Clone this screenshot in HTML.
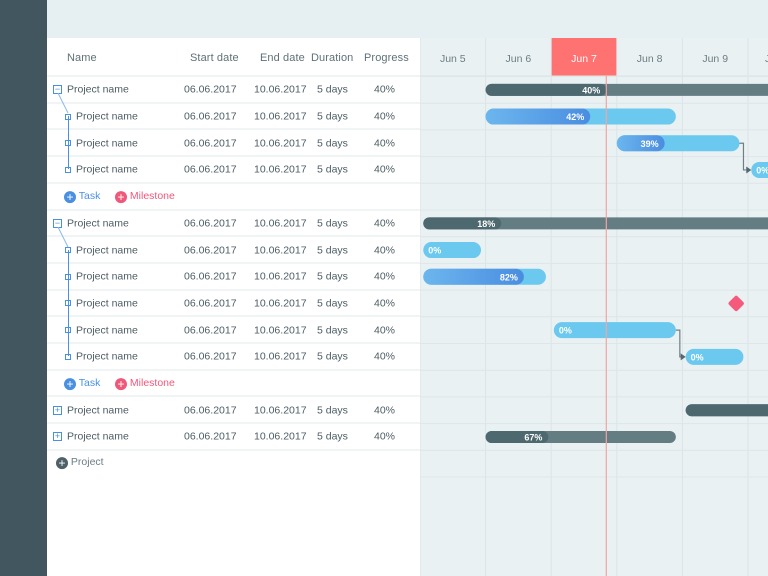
<!DOCTYPE html>
<html><head><meta charset="utf-8">
<style>
body{margin:0;width:768px;height:576px;overflow:hidden;background:#e6eff2;font-family:"Liberation Sans",sans-serif;position:relative}
.abs{position:absolute}
#side{left:0;top:0;width:47px;height:576px;background:#42565f}
#table{left:47px;top:38px;width:373px;height:538px;background:#fff}
.hd{position:absolute;top:52px;font-size:11px;color:#5f7177;font-weight:normal;letter-spacing:0.1px}
.cell{position:absolute;font-size:10.5px;color:#4c5d63;transform:translateY(-45%)}
.sep{position:absolute;left:47px;width:373px;height:2px;background:#f1f4f5}
</style></head><body>
<div id="side" class="abs"></div>
<div id="table" class="abs"></div>
<div id="tbl"></div>
<svg id="chart" class="abs" style="left:420px;top:38px" width="348" height="538"></svg>
<script>
const days=["Jun 5","Jun 6","Jun 7","Jun 8","Jun 9","Jun 10"];
const todayDay=2.84;
const rowNames=["Project name","Project name","Project name","Project name","","Project name","Project name","Project name","Project name","Project name","Project name","","Project name","Project name"];
const rowKinds=["project","task","task","task","add","project","task","task","task","task","task","add","projectc","projectc"];
const barRows=[0,1,2,3,5,6,7,9,10,12,13];
const barStart=[1,1,3,5.05,0.05,0.05,0.05,2.04,4.05,4.05,1];
const barDur=[4.6,2.9,1.87,1,6.6,0.88,1.87,1.86,0.88,2,2.9];
const barProg=[0.40,0.55,0.39,0,0.18,0,0.82,0,0,1,0.33];
const barLabel=["40%","42%","39%","0%","18%","0%","82%","0%","0%","","67%"];
const milestoneRow=[8];const milestoneDay=[4.82];
const links=[[2,3],[7,8]];

const NS="http://www.w3.org/2000/svg";
const colW=65.6, x0=0;
const rowH=26.7, firstRow=76;
const X=d=>x0+d*colW;
const Yc=r=>firstRow+rowH*r+rowH/2-38+0.5;
const svg=document.getElementById('chart');
function mk(t,a){const e=document.createElementNS(NS,t);for(const k in a)e.setAttribute(k,a[k]);svg.appendChild(e);return e;}
const defs=mk('defs',{});
defs.innerHTML='<linearGradient id="bg" x1="0" x2="1"><stop offset="0" stop-color="#6cb6ee"/><stop offset="1" stop-color="#4a8de0"/></linearGradient>';
mk('rect',{x:0,y:0,width:348,height:538,fill:'#eaf1f3'});
mk('rect',{x:0,y:0,width:348,height:38,fill:'#eaf1f3'});
days.forEach((d,i)=>{
 if(i===2){const r=mk('rect',{x:X(i),y:0,width:colW,height:38,fill:'#ff7272'});}
 const t=mk('text',{x:X(i)+colW/2,y:24,'text-anchor':'middle','font-size':'10.5',fill:i===2?'#fff':'#6b7d84','font-family':'Liberation Sans'});
 t.textContent=d;
 mk('line',{x1:X(i),x2:X(i),y1:0,y2:538,stroke:'#dbe4e7','stroke-width':1});
});
mk('line',{x1:0,x2:348,y1:38,y2:38,stroke:'#dbe4e7'});
for(let r=0;r<=15;r++){mk('line',{x1:0,x2:348,y1:Yc(r)-rowH/2,y2:Yc(r)-rowH/2,stroke:'#dde6e9'});}
barRows.forEach((r,i)=>{
 const proj=rowKinds[r]!=='task';
 const h=proj?12:16, y=Yc(r)-h/2, x=X(barStart[i]), w=barDur[i]*colW;
 const g=mk('g',{});
 const tr=document.createElementNS(NS,'rect');
 const a={x:x,y:y,width:w,height:h,rx:h/2,fill:proj?'#647d83':'#6bc8ee'};
 for(const k in a)tr.setAttribute(k,a[k]);g.appendChild(tr);
 if(barProg[i]>0){const f=document.createElementNS(NS,'rect');
  const b={x:x,y:y,width:Math.max(h,w*barProg[i]),height:h,rx:h/2,fill:proj?'#4e6870':'url(#bg)'};
  for(const k in b)f.setAttribute(k,b[k]);g.appendChild(f);}
 if(barLabel[i]){const t=document.createElementNS(NS,'text');
  const px=barProg[i]>0?x+w*barProg[i]-6:x+5;
  t.setAttribute('x',px);t.setAttribute('y',Yc(r)+3.5);t.setAttribute('font-size','9');t.setAttribute('font-weight','bold');
  t.setAttribute('fill','#fff');t.setAttribute('text-anchor',barProg[i]>0?'end':'start');t.setAttribute('font-family','Liberation Sans');
  t.textContent=barLabel[i];g.appendChild(t);}
});
links.forEach(([a,b])=>{
 const x1=X(barStart[a]+barDur[a]),y1=Yc(barRows[a]),x2=X(barStart[b]),y2=Yc(barRows[b]);
 const p=mk('path',{d:`M${x1} ${y1} H${x1+4} V${y2} H${x2-1}`,fill:'none',stroke:'#6f7f85','stroke-width':1.2});
 
 mk('path',{d:`M${x2} ${y2} l-5 -3.5 v7z`,fill:'#56676d'});
});
milestoneRow.forEach((r,i)=>{
 const cx=X(milestoneDay[i]),cy=Yc(r);
 const m=mk('rect',{x:cx-6,y:cy-6,width:12,height:12,rx:2,fill:'#f55a7c',transform:`rotate(45 ${cx} ${cy})`});
 
});
const tl=mk('line',{x1:X(todayDay),x2:X(todayDay),y1:38,y2:538,stroke:'#f3a3a3','stroke-width':1.2});


const tbl=document.getElementById('tbl');
let html='';
const hds=[["Name",67],["Start date",190],["End date",260],["Duration",311],["Progress",364]];
hds.forEach(h=>html+=`<div class="hd" style="left:${h[1]}px">${h[0]}</div>`);
html+=`<div class="sep" style="top:75px"></div>`;
const cy=r=>firstRow+rowH*r+rowH/2;
rowKinds.forEach((k,r)=>{
 const y=cy(r);
 html+=`<div class="sep" style="top:${Math.round(y+rowH/2)-1}px"></div>`;
 if(k==='add'){
  html+=`<div class="cell" style="left:64px;top:${y}px;color:#4a90e2"><span style="display:inline-block;width:12px;height:12px;border-radius:6px;background:#4a90e2;color:#fff;text-align:center;line-height:12px;font-size:12px;vertical-align:-2px">+</span> Task</div>`;
  html+=`<div class="cell" style="left:115px;top:${y}px;color:#f0587a"><span style="display:inline-block;width:12px;height:12px;border-radius:6px;background:#f0587a;color:#fff;text-align:center;line-height:12px;font-size:12px;vertical-align:-2px">+</span> Milestone</div>`;
  return;}
 const nx=k==='task'?76:67;
 if(k==='task') html+=`<div class="abs" style="left:65px;top:${y-2.5}px;width:6px;height:6px;border:1px solid #4a90e2;background:#fff;box-sizing:border-box"></div>`;
 else html+=`<div class="abs" style="left:53px;top:${y-4}px;width:9px;height:9px;border:1px solid #4a90e2;box-sizing:border-box;font-size:9px;line-height:7px;text-align:center;color:#4a90e2">${k==='project'?'−':'+'}</div>`;
 html+=`<div class="cell" style="left:${nx}px;top:${y}px">${rowNames[r]}</div>`;
 html+=`<div class="cell" style="left:184px;top:${y}px">06.06.2017</div>`;
 html+=`<div class="cell" style="left:254px;top:${y}px">10.06.2017</div>`;
 html+=`<div class="cell" style="left:317px;top:${y}px">5 days</div>`;
 html+=`<div class="cell" style="left:374px;top:${y}px">40%</div>`;
});
html+=`<div class="abs" style="left:68px;top:${cy(1)}px;width:1px;height:${cy(3)-cy(1)}px;background:#4a90e2"></div>`;
html+=`<div class="abs" style="left:68px;top:${cy(6)}px;width:1px;height:${cy(10)-cy(6)}px;background:#4a90e2"></div>`;
html+=`<svg class="abs" style="left:57px;top:${cy(0)+4}px" width="14" height="24"><line x1="1" y1="0" x2="11" y2="20" stroke="#86b8ee"/></svg>`;
html+=`<svg class="abs" style="left:57px;top:${cy(5)+4}px" width="14" height="24"><line x1="1" y1="0" x2="11" y2="20" stroke="#86b8ee"/></svg>`;
html+=`<div class="cell" style="left:56px;top:462px;color:#6b7d84"><span style="display:inline-block;width:12px;height:12px;border-radius:6px;background:#4e6168;color:#fff;text-align:center;line-height:12px;font-size:12px;vertical-align:-2px">+</span> Project</div>`;
tbl.innerHTML=html;
</script>
</body></html>
